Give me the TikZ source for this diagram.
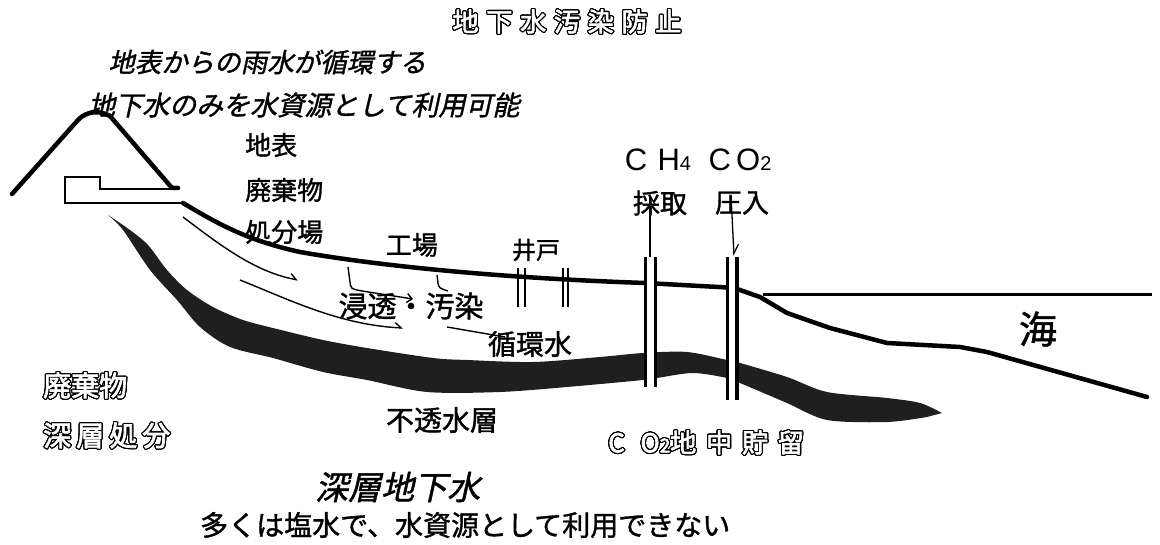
\documentclass[tikz,border=0pt]{standalone}
\usepackage{fontspec}
\usepackage{contour}
\usetikzlibrary{arrows.meta}
\setmainfont{Noto Sans CJK JP}[RawFeature={embolden=1.3}]
\newfontfamily\jpit{Noto Sans CJK JP}[FakeSlant=0.22, RawFeature={embolden=1.3}]
\newfontfamily\jpholl{Noto Sans CJK JP}[RawFeature={embolden=2.5}]
\newfontfamily\latin{Liberation Sans}
\newcommand\fs[1]{\fontsize{#1}{#1}\selectfont}
\contourlength{1.1pt}
\contournumber{32}
\newcommand\hollow[1]{\contour{black}{#1}}

\tikzset{
  lbl/.style={font=\fs{26}, inner sep=0pt},
  itl/.style={font=\jpit\fs{25}, inner sep=0pt},
  hol/.style={font=\jpholl\fs{25}, text=white, inner sep=0pt},
  lat/.style={font=\latin\fs{31}, inner sep=0pt},
  ground/.style={line width=4.5pt, line join=round, line cap=round},
  flow/.style={line width=1.4pt, -{Straight Barb[left, length=6pt, width=10pt]}},
  pipe/.style={line width=3pt},
  gas/.style={line width=1.3pt},
}

\begin{document}
\begin{tikzpicture}[x=1pt, y=-1pt]
\useasboundingbox (0,0) rectangle (1160,545);

%% impermeable layer
\fill[black!88] plot[smooth] coordinates {(108,215) (130,230) (148,245) (167,270) (187,290)
  (213,307) (243,320) (277,329) (323,340) (367,348) (433,358) (467,360) (533,362)
  (600,357) (643,353) (687,352) (727,360) (740,363) (787,377) (827,392) (887,398)
  (920,403) (942,413)}
  -- plot[smooth] coordinates {(927,417) (887,422) (827,420) (787,403) (740,383)
  (727,378) (693,373) (657,378) (643,380) (567,387) (500,392) (427,392) (367,380)
  (323,372) (273,358) (230,347) (200,327) (177,300) (150,270) (123,230) (108,215)}
  -- cycle;

%% mountain and disposal tunnel
\draw[ground, line width=4.5pt] (12,194) -- (78,120) .. controls (86,111) and (100,110) .. (110,116)
  -- (172,188) -- (178,188);
\draw[line width=2.5pt, line join=miter] (183,203) -- (65,203) -- (65,177) -- (100,177) -- (100,189) -- (178,189);

%% ground surface
\draw[ground] (183,203) .. controls (215,222) and (245,240) .. (300,252)
  .. controls (380,266) and (500,278) .. (645,283) -- (737,288);
\draw[ground] (737,289) -- (760,297) -- (787,313) -- (830,328) -- (887,343)
  -- (960,347) -- (987,352) -- (1147,397);

%% sea surface
\draw[line width=3pt] (763,295) -- (1152,295);

%% wells
\fill[white] (646,250) rectangle (654,395);
\fill[white] (728,250) rectangle (736,405);
\draw[pipe] (645,257) -- (645,387);
\draw[pipe] (655,257) -- (655,387);
\draw[pipe] (727,257) -- (727,400);
\draw[pipe, line width=4pt] (737,257) -- (737,400);
\foreach \x in {518,525,563,568}
  \draw[line width=2pt] (\x,268) -- (\x,307);

%% gas in and out
\draw[gas, -{Straight Barb[right, length=9pt, width=10pt]}] (650,257) -- (650,193);
\draw[gas, -{Straight Barb[left, length=9pt, width=10pt]}] (731,195) -- (734,256);

%% water flow
\draw[flow] (183,217) .. controls (220,245) and (255,272) .. (298,280);
\draw[flow] (240,280) .. controls (290,300) and (340,325) .. (403,328);
\draw[line width=1.4pt, -{Straight Barb[length=5pt, width=9pt]}]
  (348,267) -- (350,282) .. controls (351,289) .. (362,291) -- (413,299);
\draw[line width=1.4pt] (437,275) -- (438,283) .. controls (439,288) .. (448,291);
\draw[line width=1.4pt] (447,327) -- (505,337);

%% labels
\node[hol, font=\jpholl\fs{26}] (title) at (567,22) {\hollow{\addfontfeature{LetterSpace=30}地下水汚染防止}};
\node[itl, anchor=west, font=\jpit\fs{26.5}] (rain) at (108,62) {地表からの雨水が循環する};
\node[itl, anchor=west, font=\jpit\fs{27}] (usable) at (88,105) {地下水のみを水資源として利用可能};
\node[lbl, anchor=west] (surf) at (245,145) {地表};
\node[lbl, anchor=west] (waste) at (245,190) {廃棄物};
\node[lbl, anchor=west] (site) at (245,232) {処分場};
\node[lbl] (factory) at (412,245) {工場};
\node[lbl, font=\fs{24}] (well) at (536,250) {井戸};
\node[lat] (ch4) at (658,160) {C\,\,H{\fs{20}4}};
\node[lbl, font=\fs{27}] (take) at (660,203) {採取};
\node[lat] (co2) at (740,160) {C\,O{\fs{20}2}};
\node[lbl, font=\fs{27}] (inject) at (742,203) {圧入};
\node[lbl, font=\fs{29}] (seep) at (411,306) {浸透・汚染};
\node[lbl, font=\fs{28}] (circ) at (530,344) {循環水};
\node[lbl, font=\fs{38}] (sea) at (1038,329) {海};
\node[hol, anchor=west, font=\jpholl\fs{28}] (disp1) at (43,386) {\hollow{廃棄物}};
\node[hol, anchor=west, font=\jpholl\fs{28}] (disp2) at (43,436) {\hollow{\addfontfeature{LetterSpace=18}深層処分}};
\node[lbl, font=\fs{28}] (layer) at (442,420) {不透水層};
\node[hol, anchor=west, font=\jpholl\fs{26}] (store) at (608,443)
  {\hollow{\addfontfeature{LetterSpace=38}C O{\fs{19}2}地中貯留}};
\node[itl, anchor=west, font=\jpit\fs{33}] (deepgw) at (315,487) {深層地下水};
\node[lbl, anchor=west, font=\fs{28}] (salt) at (200,525) {多くは塩水で、水資源として利用できない};

\end{tikzpicture}
\end{document}
